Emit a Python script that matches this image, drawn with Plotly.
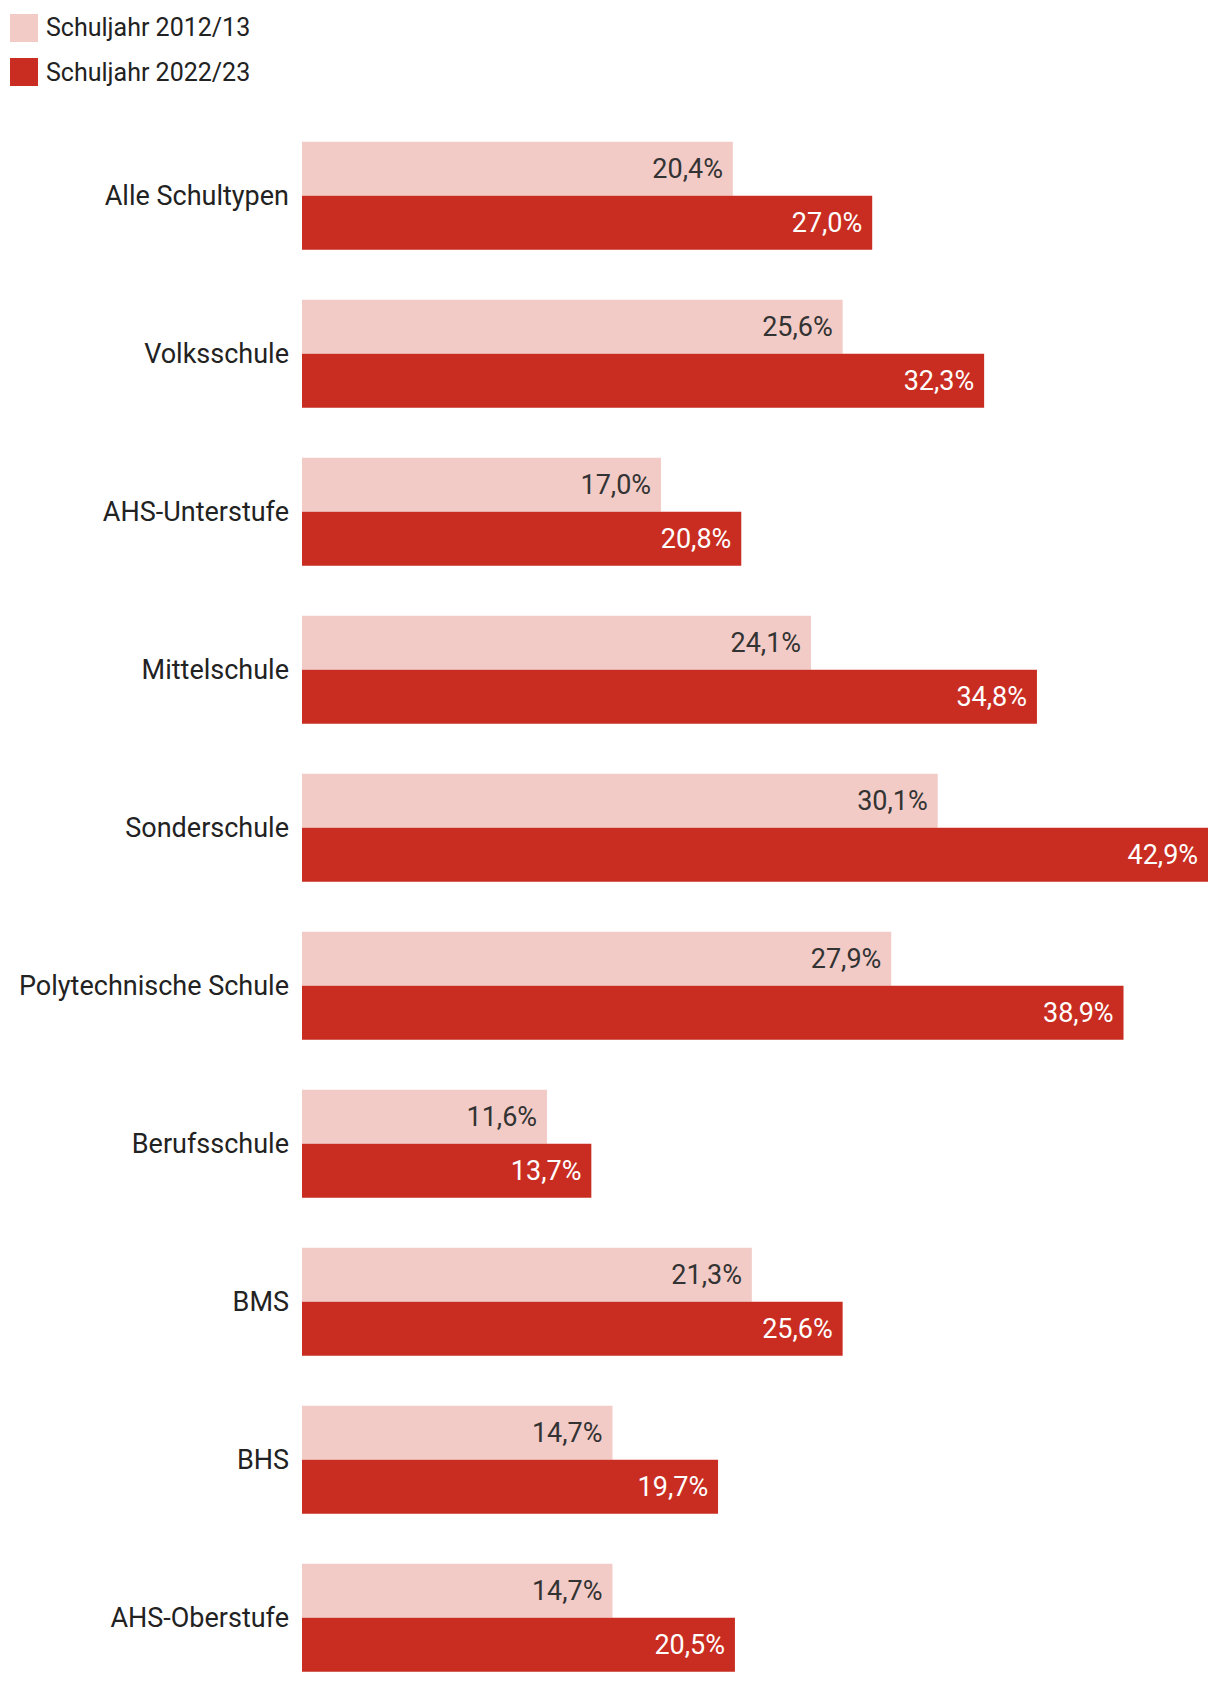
import plotly.graph_objects as go

categories = ["Alle Schultypen", "Volksschule", "AHS-Unterstufe", "Mittelschule",
              "Sonderschule", "Polytechnische Schule", "Berufsschule", "BMS", "BHS",
              "AHS-Oberstufe"]
values_2012 = [20.4, 25.6, 17.0, 24.1, 30.1, 27.9, 11.6, 21.3, 14.7, 14.7]
values_2022 = [27.0, 32.3, 20.8, 34.8, 42.9, 38.9, 13.7, 25.6, 19.7, 20.5]
series_names = ["Schuljahr 2012/13", "Schuljahr 2022/23"]

LIGHT = "#F2CBC7"
DARK = "#C92D22"
FONT = "Roboto"

OFF = 8  # page body margin
W, H = 1212, 1674
ML, MR, MT, MB = 302 - OFF, 12, 120 - OFF, 2
PW, PH = W - ML - MR, H - MT - MB

def px_x(px):
    return (px - OFF - ML) / PW

def px_y(py):
    return 1 - (py - OFF - MT) / PH

fig = go.Figure()
fig.add_trace(go.Bar(
    y=categories, x=values_2012, orientation="h", name=series_names[0],
    marker=dict(color=LIGHT, line=dict(width=0)),
    texttemplate="%{x:.1f}%\u2005", textposition="inside", insidetextanchor="end",
    insidetextfont=dict(color="#333333", size=27, family=FONT), textangle=0,
    constraintext="none", hoverinfo="skip",
))
fig.add_trace(go.Bar(
    y=categories, x=values_2022, orientation="h", name=series_names[1],
    marker=dict(color=DARK, line=dict(width=0)),
    texttemplate="%{x:.1f}%\u2005", textposition="inside", insidetextanchor="end",
    insidetextfont=dict(color="#FFFFFF", size=27, family=FONT), textangle=0,
    constraintext="none", hoverinfo="skip",
))

# custom legend
legend_rows = [(14, 42, LIGHT), (58, 86, DARK)]
for (y0, y1, col), name in zip(legend_rows, series_names):
    fig.add_shape(type="rect", xref="paper", yref="paper",
                  x0=px_x(10), x1=px_x(38), y0=px_y(y1), y1=px_y(y0),
                  fillcolor=col, line=dict(width=0))
    fig.add_annotation(xref="paper", yref="paper", x=px_x(44), y=px_y((y0 + y1) / 2),
                       text=name, showarrow=False, xanchor="left", yanchor="middle",
                       font=dict(size=25, color="#222222", family=FONT))

spacing = 158.0
first_center = 195.7 - OFF
top_units = -(first_center - MT) / spacing
bottom_units = top_units + PH / spacing

fig.update_layout(
    width=W, height=H,
    margin=dict(l=ML, r=MR, t=MT, b=MB),
    paper_bgcolor="white", plot_bgcolor="white",
    barmode="group", bargap=50 / 158, bargroupgap=0,
    showlegend=False,
    separators=",.",
    font=dict(family=FONT, size=27, color="#222222"),
    xaxis=dict(range=[0, 42.9], visible=False, fixedrange=True),
    yaxis=dict(type="category", range=[bottom_units, top_units], showgrid=False,
               showline=False, zeroline=False, ticks="", ticklabelstandoff=12,
               tickfont=dict(size=27, color="#222222", family=FONT)),
)

fig.write_html("out.html")
